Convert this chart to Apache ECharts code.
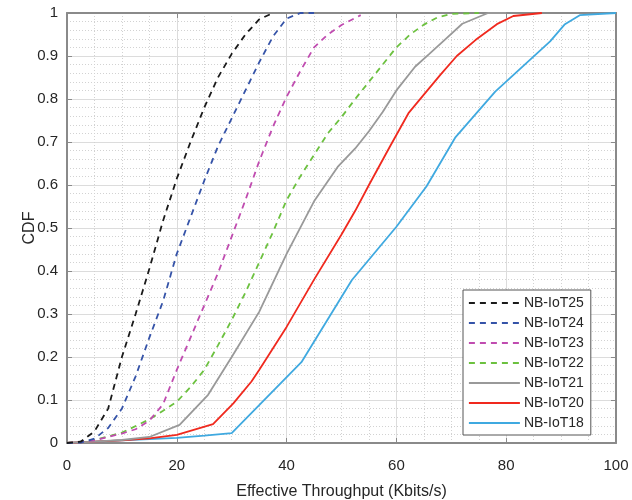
<!DOCTYPE html>
<html>
<head>
<meta charset="utf-8">
<script src="https://cdn.jsdelivr.net/npm/echarts@6/dist/echarts.min.js"></script>
<style>
  html, body { margin: 0; padding: 0; background: #fff; }
  #chart { width: 632px; height: 500px; }
</style>
</head>
<body>
<div id="chart"></div>
<script>
// Throughput (Kbits/s) vs cumulative probability, one [x, CDF] list per configuration
const iot25 = [[0,0],[2.5,0.003],[5,0.027],[7.5,0.08],[10,0.2],[12.5,0.3],[15,0.405],[17.5,0.517],[20,0.615],[22.5,0.7],[25,0.78],[27.5,0.85],[30,0.905],[32.5,0.95],[35,0.985],[37.5,1.0]];
const iot24 = [[0,0],[2.5,0.001],[5,0.01],[7.5,0.035],[10,0.08],[12.5,0.155],[15,0.245],[17.5,0.33],[20,0.44],[22.5,0.525],[25,0.61],[27.5,0.69],[30,0.755],[32.5,0.82],[35,0.885],[37.5,0.945],[40,0.987],[42.5,1.0],[45,1.0]];
const iot23 = [[0,0],[5,0.006],[10,0.022],[12.5,0.032],[15,0.052],[17.5,0.09],[20,0.17],[22.5,0.245],[25,0.32],[27.5,0.395],[30,0.48],[32.5,0.565],[35,0.655],[37.5,0.735],[40,0.805],[42.5,0.865],[45,0.92],[47.5,0.95],[50,0.972],[53.5,0.995]];
const iot22 = [[0,0],[5,0.007],[10,0.024],[15,0.055],[17.5,0.075],[20,0.096],[22.5,0.13],[25,0.17],[27.5,0.227],[30,0.286],[32.5,0.35],[35,0.42],[37.5,0.49],[40,0.565],[42.5,0.62],[45,0.67],[47.5,0.72],[50,0.758],[52.5,0.8],[55,0.84],[57.5,0.88],[60,0.92],[62.5,0.95],[65,0.973],[67.5,0.99],[70,0.998],[75,1.0]];
const iot21 = [[0,0],[5,0.003],[10,0.007],[15,0.014],[20.5,0.042],[25.7,0.112],[30,0.2],[35,0.305],[40,0.44],[45,0.562],[49.3,0.642],[52.5,0.685],[55,0.725],[57.5,0.77],[60,0.82],[63.4,0.875],[66,0.905],[69,0.94],[72,0.975],[76.7,1.0],[80,1.0]];
const iot20 = [[0,0],[5,0.003],[10,0.006],[15,0.011],[20,0.019],[26.6,0.044],[30.3,0.092],[33.6,0.143],[35,0.17],[40,0.27],[45,0.38],[50,0.485],[52.5,0.54],[55,0.6],[58.8,0.689],[62.2,0.767],[65,0.81],[68,0.856],[71,0.9],[74.4,0.937],[78.3,0.974],[81.3,0.993],[86.5,1.0]];
const iot18 = [[0,0],[5,0.003],[10,0.006],[15,0.009],[20,0.012],[25,0.017],[30,0.023],[42.7,0.188],[51.9,0.379],[60,0.503],[65.5,0.597],[70.7,0.71],[78,0.817],[88,0.934],[90.7,0.974],[93.4,0.995],[100,1.0]];

const seriesNames = ['NB-IoT25','NB-IoT24','NB-IoT23','NB-IoT22','NB-IoT21','NB-IoT20','NB-IoT18'];
const seriesData = [iot25, iot24, iot23, iot22, iot21, iot20, iot18];
const seriesColors = ['#1a1a1a','#3553a8','#c04cb0','#6cc13f','#999999','#f0291e','#3fa9e0'];
const seriesDashed = [true, true, true, true, false, false, false];

const xTicks = [0, 20, 40, 60, 80, 100];
const yTickStep = 0.1;

const FONT = '"Liberation Sans", Arial, Helvetica, sans-serif';
const TEXT = '#262626';
const AXIS = '#8a8a8a';

const chart = echarts.init(document.getElementById('chart'));

const gridLines = {
  splitLine: { show: true, lineStyle: { color: '#dcdcdc', width: 1 } },
  minorSplitLine: { show: true, lineStyle: { color: '#d2d2d2', width: 1, type: [1, 2] } }
};

const series = seriesNames.map((name, i) => ({
  name: name,
  type: 'line',
  data: seriesData[i],
  symbol: 'none',
  showSymbol: false,
  animation: false,
  clip: false,
  lineStyle: {
    color: seriesColors[i],
    width: 1.8,
    type: seriesDashed[i] ? [6, 5] : 'solid'
  },
  itemStyle: { color: seriesColors[i] },
  z: 10 - i
}));

chart.setOption({
  animation: false,
  backgroundColor: '#ffffff',
  grid: { left: 67, right: 16, top: 13, bottom: 57, containLabel: false, outerBoundsMode: 'none' },
  legend: {
    data: seriesNames,
    orient: 'vertical',
    left: 463,
    top: 290,
    width: 131,
    padding: [6, 7, 5, 5],
    itemWidth: 51,
    itemHeight: 14,
    itemGap: 6,
    itemStyle: { opacity: 0 },
    lineStyle: { width: 1.8 },
    backgroundColor: '#ffffff',
    borderColor: '#555555',
    borderWidth: 1,
    borderRadius: 0,
    textStyle: { fontFamily: FONT, fontSize: 14, color: TEXT, lineHeight: 14, padding: [0, 0, 0, -1] }
  },
  xAxis: [
    {
      type: 'value',
      min: xTicks[0],
      max: xTicks[xTicks.length - 1],
      interval: xTicks[1] - xTicks[0],
      name: 'Effective Throughput (Kbits/s)',
      nameLocation: 'middle',
      nameGap: 41,
      nameTextStyle: { fontFamily: FONT, fontSize: 16, color: TEXT },
      axisLine: { show: true, onZero: false, lineStyle: { color: AXIS, width: 2 } },
      axisTick: { show: true, inside: true, length: 5, lineStyle: { color: AXIS, width: 1 } },
      axisLabel: { fontFamily: FONT, fontSize: 15, color: TEXT, margin: 15 },
      minorTick: { show: false, splitNumber: 4 },
      ...gridLines
    },
    {
      type: 'value',
      position: 'top',
      min: xTicks[0],
      max: xTicks[xTicks.length - 1],
      interval: xTicks[1] - xTicks[0],
      axisLine: { show: true, onZero: false, lineStyle: { color: AXIS, width: 2 } },
      axisTick: { show: true, inside: true, length: 5, lineStyle: { color: AXIS, width: 1 } },
      axisLabel: { show: false },
      splitLine: { show: false }
    }
  ],
  yAxis: [
    {
      type: 'value',
      min: 0,
      max: 1,
      interval: yTickStep,
      name: 'CDF',
      nameLocation: 'middle',
      nameGap: 29,
      nameMoveOverlap: false,
      nameTextStyle: { fontFamily: FONT, fontSize: 16, color: TEXT },
      axisLine: { show: true, onZero: false, lineStyle: { color: AXIS, width: 2 } },
      axisTick: { show: true, inside: true, length: 5, lineStyle: { color: AXIS, width: 1 } },
      axisLabel: {
        fontFamily: FONT, fontSize: 15, color: TEXT, margin: 9,
        formatter: v => String(Math.round(v * 10) / 10)
      },
      minorTick: { show: false, splitNumber: 5 },
      ...gridLines
    },
    {
      type: 'value',
      position: 'right',
      min: 0,
      max: 1,
      interval: yTickStep,
      axisLine: { show: true, onZero: false, lineStyle: { color: AXIS, width: 2 } },
      axisTick: { show: true, inside: true, length: 5, lineStyle: { color: AXIS, width: 1 } },
      axisLabel: { show: false },
      splitLine: { show: false }
    }
  ],
  series: series
});
</script>
</body>
</html>
